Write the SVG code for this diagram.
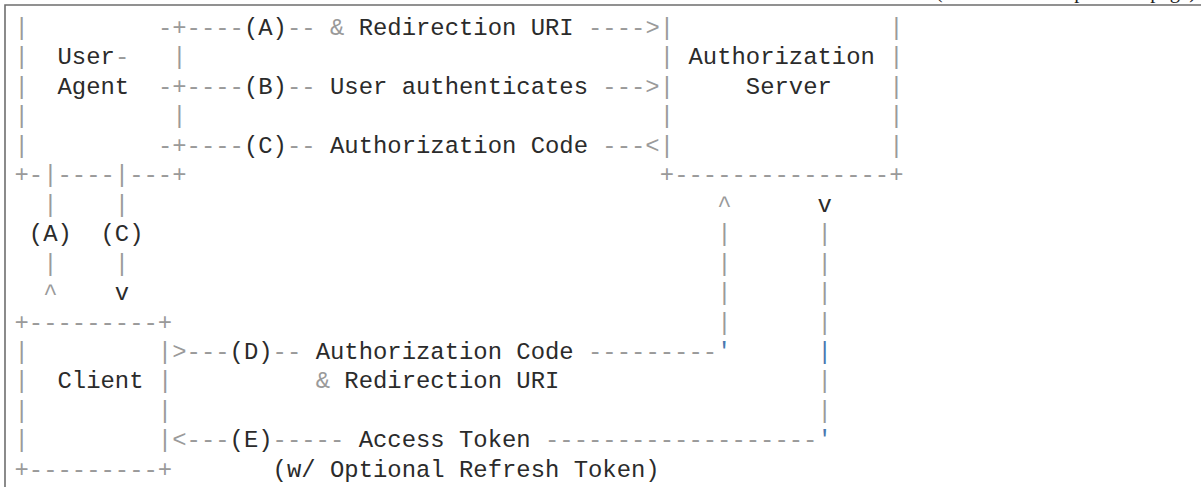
<svg xmlns="http://www.w3.org/2000/svg" width="1201" height="487" viewBox="0 0 1201 487" xml:space="preserve">
<style>
  .m { font-family: "Liberation Mono", "DejaVu Sans Mono", monospace; font-size: 23.9px; fill: #2b2b2b; white-space: pre; }
  .p { fill: #9a9a9a; }
  .s { fill: #4a78b0; }
  .cap { font-family: "Liberation Serif", serif; font-size: 20.6px; fill: #222; }
  .frame { fill: none; stroke: #6e6e6e; stroke-width: 1.6; }
</style>
<rect width="1201" height="487" fill="#ffffff"/>
<!-- page chrome: continuation caption and code-block frame -->
<text class="cap" x="1196" y="-2.5" text-anchor="end">(continued from previous page)</text>
<path class="frame" d="M5,487 V5 H1201"/>

<g id="user-agent">
<text class="m p" x="14.5" y="35">|</text>
<text class="m" x="14.5" y="64.45"><tspan class="p">|</tspan>  User<tspan class="p">-   |</tspan></text>
<text class="m" x="14.5" y="93.9"><tspan class="p">|</tspan>  Agent</text>
<text class="m p" x="14.5" y="123.35">|          |</text>
<text class="m p" x="14.5" y="152.8">|</text>
<text class="m p" x="14.5" y="182.25">+-|----|---+</text>
</g>

<g id="authorization-server">
<text class="m p" x="659.8" y="35">|               |</text>
<text class="m" x="659.8" y="64.45"><tspan class="p">|</tspan> Authorization <tspan class="p">|</tspan></text>
<text class="m" x="659.8" y="93.9"><tspan class="p">|</tspan>     Server    <tspan class="p">|</tspan></text>
<text class="m p" x="659.8" y="123.35">|               |</text>
<text class="m p" x="659.8" y="152.8">|               |</text>
<text class="m p" x="659.8" y="182.25">+---------------+</text>
</g>

<g id="client">
<text class="m p" x="14.5" y="329.5">+---------+</text>
<text class="m p" x="14.5" y="358.95">|         |</text>
<text class="m" x="14.5" y="388.4"><tspan class="p">|</tspan>  Client <tspan class="p">|</tspan></text>
<text class="m p" x="14.5" y="417.85">|         |</text>
<text class="m p" x="14.5" y="447.3">|         |</text>
<text class="m p" x="14.5" y="476.75">+---------+</text>
</g>

<g id="connectors">
<!-- (A), (B), (C): user-agent to authorization server -->
<text class="m" x="157.9" y="35"><tspan class="p">-+----</tspan>(A)<tspan class="p">-- &amp;</tspan> Redirection URI <tspan class="p">----&gt;</tspan></text>
<text class="m" x="157.9" y="93.9"><tspan class="p">-+----</tspan>(B)<tspan class="p">--</tspan> User authenticates <tspan class="p">---&gt;</tspan></text>
<text class="m" x="157.9" y="152.8"><tspan class="p">-+----</tspan>(C)<tspan class="p">--</tspan> Authorization Code <tspan class="p">---&lt;</tspan></text>
<!-- (A), (C): user-agent down to client -->
<text class="m p" x="43.18" y="211.7">|    |</text>
<text class="m" x="28.84" y="241.15">(A)  (C)</text>
<text class="m p" x="43.18" y="270.6">|    |</text>
<text class="m" x="43.18" y="300.05"><tspan class="p">^</tspan>    v</text>
<!-- right-hand verticals to authorization server -->
<text class="m" x="717.16" y="211.7"><tspan class="p">^</tspan>      v</text>
<text class="m p" x="717.16" y="241.15">|      |</text>
<text class="m p" x="717.16" y="270.6">|      |</text>
<text class="m p" x="717.16" y="300.05">|      |</text>
<text class="m p" x="717.16" y="329.5">|      |</text>
<!-- (D): client to authorization server -->
<text class="m" x="172.24" y="358.95"><tspan class="p">&gt;---</tspan>(D)<tspan class="p">--</tspan> Authorization Code <tspan class="p">---------</tspan><tspan class="s">'      |</tspan></text>
<text class="m" x="315.64" y="388.4"><tspan class="p">&amp;</tspan> Redirection URI</text>
<text class="m p" x="817.54" y="388.4">|</text>
<text class="m p" x="817.54" y="417.85">|</text>
<!-- (E): authorization server back to client -->
<text class="m" x="172.24" y="447.3"><tspan class="p">&lt;---</tspan>(E)<tspan class="p">-----</tspan> Access Token <tspan class="p">-------------------</tspan><tspan class="s">'</tspan></text>
<text class="m" x="272.62" y="476.75">(w/ Optional Refresh Token)</text>
</g>
</svg>
